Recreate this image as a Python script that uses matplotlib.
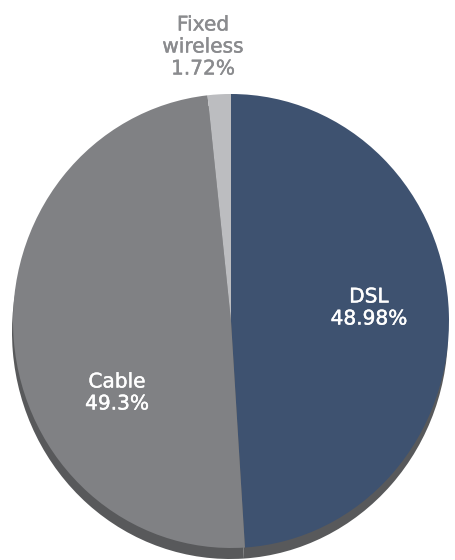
import matplotlib
matplotlib.use('Agg')
import matplotlib.pyplot as plt
import matplotlib.patheffects as pe

# broadband access shares
labels = ['DSL', 'Cable', 'Fixed\nwireless']
shares = [48.98, 49.3, 1.72]

colors = ['#3e5270', '#808184', '#bcbdc0']
shadow_color = '#58595b'
label_colors = ['white', 'white', '#8a8b8e']

W, H = 456, 560
RX, RY = 218, 227          # horizontal / vertical radius in pixels
k = RY / RX                # x data units per pixel
cx, cy = 231, 321          # pie centre in pixels (from top-left)

fig = plt.figure(figsize=(W / 100, H / 100), dpi=100)
ax = fig.add_axes([0, 0, 1, 1])

explode = [0, 0, 0.015]

# drop shadow under the pie
ax.pie(shares, colors=[shadow_color] * 3, startangle=90, counterclock=False,
       explode=explode, radius=RY, center=((cx - 1) * k, H - cy - 11),
       wedgeprops=dict(linewidth=0))

# top face
ax.pie(shares, colors=colors, startangle=90, counterclock=False,
       explode=explode, radius=RY, center=(cx * k, H - cy),
       wedgeprops=dict(linewidth=0))

ax.set_aspect('auto')
ax.set_xlim(0, W * k)
ax.set_ylim(0, H)
ax.axis('off')

# label positions in pixels
label_pos = [(369, 308), (117, 393), (203, 47)]
for lab, val, (px, py), c in zip(labels, shares, label_pos, label_colors):
    ax.text(px * k, H - py, f"{lab}\n{val:g}%", ha='center', va='center',
            color=c, fontsize=14.5, linespacing=1.2, family='DejaVu Sans',
            path_effects=[pe.withStroke(linewidth=0.3, foreground=c)])

fig.savefig('out.png', dpi=100)
